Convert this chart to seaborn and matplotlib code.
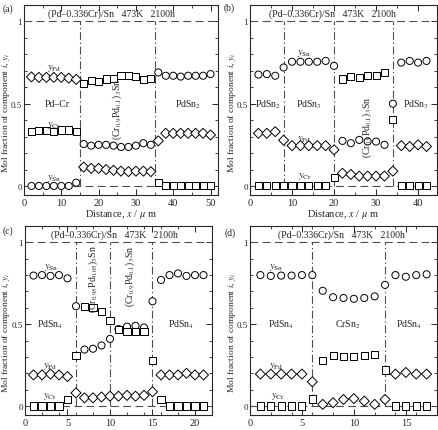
import pandas as pd
import seaborn as sns
import matplotlib.pyplot as plt
from matplotlib.ticker import MultipleLocator

# ---- panel (a) ----
a_x = [2, 4, 6, 8, 10, 12, 14, 16, 18, 20, 22, 24, 26, 28, 30, 32, 34,
       36, 38, 40, 42, 44, 46, 48, 50]
a_sn = [0, 0, 0, 0, 0, 0, 0.02,
        0.255, 0.245, 0.25, 0.25, 0.245, 0.237, 0.237, 0.245, 0.26, 0.25,
        0.69, 0.67, 0.67, 0.665, 0.67, 0.67, 0.67, 0.68]
a_cr = [0.33, 0.335, 0.335, 0.333, 0.34, 0.34, 0.33,
        0.625, 0.64, 0.635, 0.65, 0.655, 0.67, 0.67, 0.665, 0.645, 0.653,
        0.02, 0, 0, 0, 0, 0, 0, 0]
a_pd = [0.663, 0.66, 0.66, 0.66, 0.66, 0.655, 0.648,
        0.115, 0.107, 0.107, 0.1, 0.095, 0.09, 0.087, 0.09, 0.09, 0.087,
        0.274, 0.32, 0.32, 0.32, 0.32, 0.32, 0.32, 0.31]
a_bounds = [15, 35]

# ---- panel (b) ----
b_x = [2, 4, 6, 8, 10, 12, 14, 16, 18, 20, 22, 24, 26, 28, 30, 32, 34,
       36, 38, 40, 42]
b_sn = [0.677, 0.68, 0.67, 0.72, 0.755, 0.755, 0.755, 0.755, 0.76, 0.73,
        0.274, 0.26, 0.28, 0.27, 0.27, 0.25, 0.5, 0.75, 0.76, 0.75, 0.76]
b_cr = [0, 0, 0, 0, 0, 0, 0, 0, 0, 0.05,
        0.65, 0.665, 0.66, 0.67, 0.67, 0.69, 0.405, 0, 0, 0, 0]
b_pd = [0.32, 0.32, 0.33, 0.278, 0.245, 0.245, 0.245, 0.245, 0.245, 0.22,
        0.077, 0.07, 0.06, 0.06, 0.06, 0.06, 0.09, 0.245, 0.24, 0.25, 0.24]
b_bounds = [8, 20, 34]

# ---- panel (c) ----
c_x = [1, 2, 3, 4, 5, 6, 7, 8, 9, 10, 11, 12, 13, 14, 15, 16, 17, 18, 19, 20, 21]
c_sn = [0.797, 0.80, 0.795, 0.80, 0.78, 0.61, 0.345, 0.35, 0.37, 0.41,
        0.47, 0.485, 0.49, 0.48, 0.64, 0.77, 0.80, 0.81, 0.795, 0.80, 0.80]
c_cr = [0, 0, 0, 0, 0.037, 0.306, 0.61, 0.60, 0.576, 0.523,
        0.466, 0.455, 0.455, 0.458, 0.28, 0.04, 0, 0, 0, 0, 0]
c_pd = [0.19, 0.19, 0.195, 0.19, 0.18, 0.08, 0.05, 0.05, 0.055, 0.06,
        0.06, 0.065, 0.06, 0.065, 0.087, 0.19, 0.19, 0.19, 0.20, 0.19, 0.19]
c_bounds = [6, 10, 15]

# ---- panel (d) ----
d_x = [1, 2, 3, 4, 5, 6, 7, 8, 9, 10, 11, 12, 13, 14, 15, 16, 17]
d_sn = [0.80, 0.795, 0.797, 0.797, 0.80, 0.80, 0.704, 0.665, 0.66, 0.655,
        0.66, 0.67, 0.74, 0.80, 0.79, 0.80, 0.805]
d_cr = [0, 0, 0, 0, 0, 0.043, 0.28, 0.31, 0.30, 0.30, 0.31, 0.315, 0.22,
        0, 0, 0, 0]
d_pd = [0.195, 0.195, 0.195, 0.195, 0.195, 0.148, 0.01, 0.02, 0.04, 0.045,
        0.03, 0.01, 0.04, 0.195, 0.205, 0.195, 0.195]
d_bounds = [6, 13]

TITLE = "(Pd\u20130.336Cr)/Sn   473K   2100h"
MARKERS = {"Sn": "o", "Cr": "s", "Pd": "D"}
CR9 = "(Cr$_{0.9}$Pd$_{0.1}$)$_3$Sn"

# text annotations: (text, x, y, rotation)
a_labels = [("$y_{\\rm Pd}$", 8, 0.72, 0), ("$y_{\\rm Cr}$", 8, 0.375, 0),
            ("$y_{\\rm Sn}$", 8, 0.05, 0), ("Pd\u2013Cr", 9, 0.5, 0),
            (CR9, 25, 0.47, 90), ("PdSn$_2$", 44, 0.5, 0)]
b_labels = [("$y_{\\rm Sn}$", 13, 0.81, 0), ("$y_{\\rm Pd}$", 13, 0.29, 0),
            ("$y_{\\rm Cr}$", 13, 0.065, 0), ("PdSn$_2$", 4.3, 0.5, 0),
            ("PdSn$_3$", 14, 0.5, 0), (CR9, 27.8, 0.36, 90),
            ("PdSn$_3$", 39.5, 0.5, 0)]
c_labels = [("$y_{\\rm Sn}$", 3.1, 0.85, 0), ("$y_{\\rm Pd}$", 3.0, 0.245, 0),
            ("$y_{\\rm Cr}$", 3.0, 0.065, 0), ("PdSn$_4$", 2.9, 0.5, 0),
            ("(Cr$_{0.95}$Pd$_{0.05}$)$_3$Sn", 8, 0.78, 90),
            (CR9, 12.4, 0.80, 90), ("PdSn$_4$", 18.3, 0.5, 0)]
d_labels = [("$y_{\\rm Sn}$", 2.5, 0.855, 0), ("$y_{\\rm Pd}$", 2.5, 0.25, 0),
            ("$y_{\\rm Cr}$", 2.7, 0.065, 0), ("PdSn$_4$", 3.0, 0.5, 0),
            ("CrSn$_2$", 9.4, 0.5, 0), ("PdSn$_4$", 15.3, 0.5, 0)]

sns.set_style("ticks")
plt.rcParams["font.family"] = ["Liberation Serif", "DejaVu Serif"]
plt.rcParams["mathtext.fontset"] = "stix"
plt.rcParams["xtick.direction"] = "in"
plt.rcParams["ytick.direction"] = "in"
plt.rcParams["axes.linewidth"] = 0.8

FS = 7.5


def draw_panel(ax, x, sn, cr, pdv, bounds, xmax, xminor, labels, title_x, ylab_x):
    n = len(x)
    df = pd.DataFrame({"x": x * 3, "y": sn + cr + pdv,
                       "species": ["Sn"] * n + ["Cr"] * n + ["Pd"] * n})
    ax.axhline(0, color="0.3", ls=(0, (7, 4)), lw=0.8, zorder=1)
    ax.axhline(1, color="0.3", ls=(0, (7, 4)), lw=0.8, zorder=1)
    ax.vlines(bounds, 0, 1, colors="0.3", linestyles=(0, (7, 2.5, 1.2, 2.5)),
              lw=0.8, zorder=1)
    sns.scatterplot(data=df, x="x", y="y", style="species", markers=MARKERS,
                    color="white", edgecolor="black", linewidth=0.7, s=26,
                    legend=False, ax=ax, zorder=3)
    for txt, tx, ty, rot in labels:
        size = FS if txt.startswith("$y") else 7
        ax.text(tx, ty, txt, ha="center", va="center", rotation=rot,
                fontsize=size)
    ax.text(title_x * xmax, 1.05, TITLE, ha="center", va="center", fontsize=7)
    ax.set_xlim(0, xmax)
    ax.set_ylim(-0.055, 1.1)
    ax.set_yticks([0, 0.5, 1])
    ax.set_yticklabels(["0", "0.5", "1"])
    ax.yaxis.set_minor_locator(MultipleLocator(0.1))
    ax.xaxis.set_minor_locator(MultipleLocator(xminor))
    ax.tick_params(which="both", top=True, right=True)
    ax.tick_params(axis="x", labelsize=7.5, pad=2)
    ax.tick_params(axis="y", labelsize=6.5, pad=1.5)
    ax.tick_params(which="major", length=4, width=0.7)
    ax.tick_params(which="minor", length=2.5, width=0.6)
    ax.set_xlabel("Distance, $x$ / $\\mu$ m", fontsize=FS, labelpad=0.5)
    ax.set_ylabel("Mol fraction of component $i$, $y_i$", fontsize=6.8)
    ax.yaxis.set_label_coords(ylab_x, 0.44)


W, H = 439, 431
fig = plt.figure(figsize=(W / 100, H / 100), dpi=100)
ax_a = fig.add_axes([24 / W, 1 - 196 / H, 194 / W, 190 / H])
ax_b = fig.add_axes([250 / W, 1 - 196 / H, 187 / W, 190 / H])
ax_c = fig.add_axes([25 / W, 1 - 416 / H, 187 / W, 189 / H])
ax_d = fig.add_axes([250 / W, 1 - 416 / H, 187 / W, 189 / H])

draw_panel(ax_a, a_x, a_sn, a_cr, a_pd, a_bounds, 52, 5, a_labels, 0.45, -0.062)
draw_panel(ax_b, b_x, b_sn, b_cr, b_pd, b_bounds, 44.5, 5, b_labels, 0.44, -0.066)
draw_panel(ax_c, c_x, c_sn, c_cr, c_pd, c_bounds, 22, 2, c_labels, 0.48, -0.07)
draw_panel(ax_d, d_x, d_sn, d_cr, d_pd, d_bounds, 18, 2, d_labels, 0.49, -0.066)

for tag, px, py in [("(a)", 8, 9), ("(b)", 229, 8), ("(c)", 8, 231), ("(d)", 230, 233)]:
    fig.text(px / W, 1 - py / H, tag, ha="center", va="center", fontsize=7)

fig.savefig("out.png", dpi=100)
